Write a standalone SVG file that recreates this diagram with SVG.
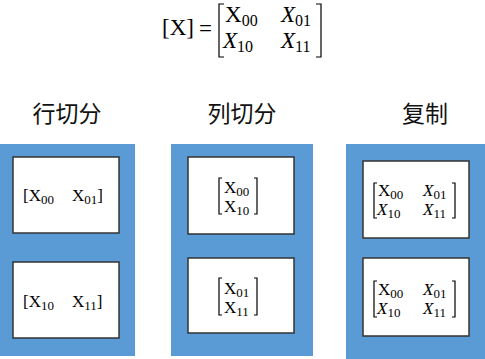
<svg xmlns="http://www.w3.org/2000/svg" width="485" height="359" viewBox="0 0 485 359">
<style>
.m{font-family:"Liberation Serif","DejaVu Serif",serif;font-size:17px;fill:#000}
.f{font-family:"Liberation Serif","DejaVu Serif",serif;font-size:23px;fill:#000}
.i{font-style:italic}
.t{font-family:"Noto Sans CJK SC","Noto Sans",sans-serif;font-size:23px;fill:#111;text-anchor:middle}
.panel{fill:#5B9BD5}
.box{fill:#fff;stroke:#333;stroke-width:1.5}
.br{fill:none;stroke:#000;stroke-width:1.2}
</style>
<g id="formula">
<text class="f" x="162" y="35">[X]</text>
<text class="f" x="199" y="36" font-size="28">=</text>
<path class="br" d="M224,4 H219 V57 H224 M316,4 H321 V57 H316" stroke-width="1.5"/>
<text class="f" x="225" y="22">X<tspan font-size="16" dy="4">00</tspan></text>
<text class="f i" x="281" y="22">X<tspan font-size="16" dy="4" font-style="normal">01</tspan></text>
<text class="f i" x="223" y="48">X<tspan font-size="16" dy="4" font-style="normal">10</tspan></text>
<text class="f i" x="281" y="48">X<tspan font-size="16" dy="4" font-style="normal">11</tspan></text>
</g>
<g id="row-split">
<text class="t" x="67" y="122">行切分</text>
<rect class="panel" x="0" y="144" width="135" height="212"/>
<g id="row-split-a">
<rect class="box" x="13" y="157" width="106" height="76"/>
<text class="m" x="23" y="201">[X<tspan font-size="13" dy="3">00</tspan></text>
<text class="m" x="72" y="201">X<tspan font-size="13" dy="3">01</tspan><tspan dy="-3">]</tspan></text>
</g>
<g id="row-split-b">
<rect class="box" x="13" y="262" width="106" height="76"/>
<text class="m" x="23" y="307">[X<tspan font-size="13" dy="3">10</tspan></text>
<text class="m" x="72" y="307">X<tspan font-size="13" dy="3">11</tspan><tspan dy="-3">]</tspan></text>
</g>
</g>
<g id="col-split">
<text class="t" x="242" y="122">列切分</text>
<rect class="panel" x="171" y="144" width="142" height="212"/>
<g id="col-split-a">
<rect class="box" x="188" y="157" width="106" height="77"/>
<path class="br" d="M222,178 H219 V214 H222 M254,178 H257 V214 H254"/>
<text class="m" x="224" y="193">X<tspan font-size="13" dy="3">00</tspan></text>
<text class="m" x="224" y="212">X<tspan font-size="13" dy="3">10</tspan></text>
</g>
<g id="col-split-b">
<rect class="box" x="188" y="258" width="106" height="75"/>
<path class="br" d="M222,278 H219 V315 H222 M254,278 H257 V315 H254"/>
<text class="m" x="224" y="294">X<tspan font-size="13" dy="3">01</tspan></text>
<text class="m" x="224" y="313">X<tspan font-size="13" dy="3">11</tspan></text>
</g>
</g>
<g id="copy">
<text class="t" x="425" y="122">复制</text>
<rect class="panel" x="346" y="144" width="139" height="215"/>
<g id="copy-a">
<rect class="box" x="363" y="161" width="106" height="77"/>
<path class="br" d="M377,183 H374 V218 H377 M452,183 H455 V218 H452"/>
<text class="m" x="378" y="196">X<tspan font-size="13" dy="3">00</tspan></text>
<text class="m i" x="423" y="196">X<tspan font-size="13" dy="3" font-style="normal">01</tspan></text>
<text class="m i" x="377" y="215">X<tspan font-size="13" dy="3" font-style="normal">10</tspan></text>
<text class="m i" x="423" y="215">X<tspan font-size="13" dy="3" font-style="normal">11</tspan></text>
</g>
<g id="copy-b">
<rect class="box" x="363" y="258" width="106" height="78"/>
<path class="br" d="M377,281 H374 V317 H377 M452,281 H455 V317 H452"/>
<text class="m" x="378" y="295">X<tspan font-size="13" dy="3">00</tspan></text>
<text class="m i" x="423" y="295">X<tspan font-size="13" dy="3" font-style="normal">01</tspan></text>
<text class="m i" x="377" y="314">X<tspan font-size="13" dy="3" font-style="normal">10</tspan></text>
<text class="m i" x="423" y="314">X<tspan font-size="13" dy="3" font-style="normal">11</tspan></text>
</g>
</g>
<g id="connectors"/>
</svg>
